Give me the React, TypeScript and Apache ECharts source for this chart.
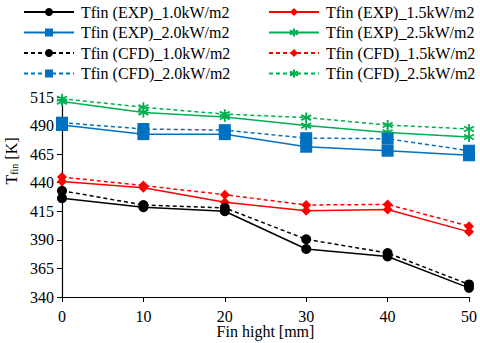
import React, { useEffect, useRef } from "react";
import * as echarts from "echarts";

const finHeights = [0, 10, 20, 30, 40, 50];
const yTicks = [340, 365, 390, 415, 440, 465, 490, 515];

const exp10 = [426.5, 418.5, 415, 382, 375.5, 348];
const exp15 = [441, 435.5, 423, 415.5, 416.5, 397];
const exp20 = [490.5, 482.5, 482.5, 471.5, 468, 464];
const exp25 = [511, 501.5, 497.5, 490, 484, 480];
const cfd10 = [433, 420.5, 418, 390.5, 378.5, 351];
const cfd15 = [445, 437.5, 429.5, 420.5, 421, 402];
const cfd20 = [492.5, 487, 486, 479, 478.5, 468];
const cfd25 = [513.5, 506, 500, 497, 490.5, 487];

const FONT = "Liberation Serif";
const STAR = "path://M0,-6L0,6M-5.2,-3L5.2,3M-5.2,3L5.2,-3";

function pts(vals: number[]) {
  return finHeights.map((x, i) => [x, vals[i]]);
}

export default function App() {
  const ref = useRef<HTMLDivElement>(null);
  useEffect(() => {
    if (!ref.current) return;
    const chart = echarts.init(ref.current, undefined, { renderer: "svg" });
    const mk = (
      name: string,
      data: number[],
      color: string,
      dashed: boolean,
      symbol: string,
      size: number
    ) => ({
      name,
      type: "line",
      data: pts(data),
      symbol,
      symbolSize: size,
      showSymbol: true,
      lineStyle: { color, width: 1.5, type: dashed ? [4, 3] : "solid" },
      itemStyle:
        symbol === STAR
          ? { color: "rgba(0,0,0,0)", borderColor: color, borderWidth: 1.8 }
          : { color, borderWidth: 0 },
      z: dashed ? 3 : 2,
    });
    const series = [
      mk("Tfin (EXP)_1.0kW/m2", exp10, "#000000", false, "circle", 10),
      mk("Tfin (EXP)_1.5kW/m2", exp15, "#FF0000", false, "diamond", 10),
      mk("Tfin (EXP)_2.0kW/m2", exp20, "#0070C0", false, "rect", 12),
      mk("Tfin (EXP)_2.5kW/m2", exp25, "#00B050", false, STAR, 10),
      mk("Tfin (CFD)_1.0kW/m2", cfd10, "#000000", true, "circle", 10),
      mk("Tfin (CFD)_1.5kW/m2", cfd15, "#FF0000", true, "diamond", 10),
      mk("Tfin (CFD)_2.0kW/m2", cfd20, "#0070C0", true, "rect", 12),
      mk("Tfin (CFD)_2.5kW/m2", cfd25, "#00B050", true, STAR, 10),
    ];
    const legendBase = {
      orient: "vertical",
      top: 4,
      padding: 0,
      itemWidth: 50,
      itemHeight: 10,
      itemGap: 4.5,
      textStyle: { fontFamily: FONT, fontSize: 16, color: "#000", padding: [0, 0, 0, 2] },
    };
    chart.setOption({
      animation: false,
      backgroundColor: "#fff",
      textStyle: { fontFamily: FONT },
      legend: [
        {
          ...legendBase,
          left: 23,
          data: [series[0].name, series[2].name, series[4].name, series[6].name],
        },
        {
          ...legendBase,
          left: 268,
          data: [series[1].name, series[3].name, series[5].name, series[7].name],
        },
      ],
      graphic: [
        {
          type: "text",
          x: 11,
          y: 161,
          rotation: Math.PI / 2,
          style: {
            text: "{t|T}{s|fin}{t| [K]}",
            align: "center",
            verticalAlign: "middle",
            rich: {
              t: { fontFamily: FONT, fontSize: 16, fill: "#000" },
              s: { fontFamily: FONT, fontSize: 10, fill: "#000", verticalAlign: "bottom", padding: [6, 0, 0, 0] },
            },
          },
        },
      ],
      grid: { left: 62, right: 11, top: 97, bottom: 46, outerBoundsMode: "none", containLabel: false },
      xAxis: {
        type: "value",
        min: finHeights[0],
        max: finHeights[finHeights.length - 1],
        interval: 10,
        name: "Fin hight [mm]",
        nameLocation: "middle",
        nameGap: 27,
        nameMoveOverlap: false,
        nameTextStyle: { fontFamily: FONT, fontSize: 16, lineHeight: 14, color: "#000" },
        axisLine: { lineStyle: { color: "#000", width: 1.2 } },
        axisTick: { show: true, inside: false, length: 5, lineStyle: { color: "#000" } },
        axisLabel: { fontFamily: FONT, fontSize: 16, lineHeight: 14, color: "#000", margin: 12 },
        splitLine: { show: false },
      },
      yAxis: {
        type: "value",
        min: yTicks[0],
        max: yTicks[yTicks.length - 1],
        interval: 25,
        axisLine: { show: true, lineStyle: { color: "#000", width: 1.2 } },
        axisTick: { show: true, inside: false, length: 5, lineStyle: { color: "#000" } },
        axisLabel: { fontFamily: FONT, fontSize: 16, color: "#000", margin: 8 },
        splitLine: { show: false },
      },
      series,
    });
    return () => chart.dispose();
  }, []);
  return <div ref={ref} style={{ width: 480, height: 343, position: "absolute", left: 0, top: 0 }} />;
}
